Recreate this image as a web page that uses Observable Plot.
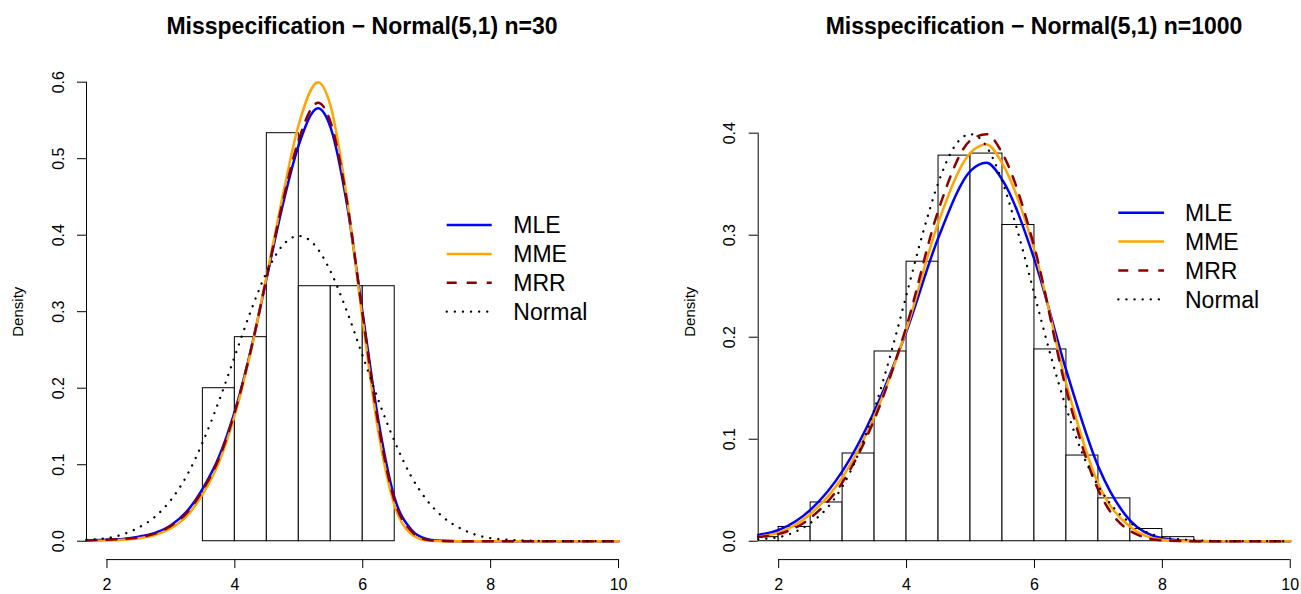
<!DOCTYPE html>
<html>
<head>
<meta charset="utf-8">
<script src="https://cdn.jsdelivr.net/npm/d3@7"></script>
<script src="https://cdn.jsdelivr.net/npm/@observablehq/plot@0.6"></script>
<style>
  html, body { margin: 0; padding: 0; background: #fff; }
  #wrap { position: relative; width: 1301px; height: 594px; overflow: hidden;
          font-family: "Liberation Sans", Arial, Helvetica, sans-serif; }
  .panel { position: absolute; top: 0; }
  .title { position: absolute; top: 11px; font-weight: bold; font-size: 23px; white-space: nowrap;
           transform: translateX(-50%); color: #000; line-height: 30px; }
  #legend { position: absolute; left: 0; top: 0; }
</style>
</head>
<body>
<div id="wrap"></div>
<script>
// ---------------- data ----------------
const titles = ["Misspecification \u2212 Normal(5,1) n=30", "Misspecification \u2212 Normal(5,1) n=1000"];
const seriesNames = ["MLE", "MME", "MRR", "Normal"];
const xTicks = [2, 4, 6, 8, 10];
const leftYTicks = [0.0, 0.1, 0.2, 0.3, 0.4, 0.5, 0.6];
const rightYTicks = [0.0, 0.1, 0.2, 0.3, 0.4];
const yLabel = "Density";

// histogram n = 30
const leftBreaks = [3.5, 4.0, 4.5, 5.0, 5.5, 6.0, 6.5];
const leftDensity = [0.200, 0.2667, 0.5333, 0.3333, 0.3333, 0.3333];

// histogram n = 1000
const rightBreaks = [1.5, 2.0, 2.5, 3.0, 3.5, 4.0, 4.5, 5.0, 5.5, 6.0, 6.5, 7.0, 7.5, 8.0, 8.5];
const rightDensity = [0.004, 0.014, 0.038, 0.086, 0.186, 0.274, 0.378, 0.380, 0.310, 0.188, 0.084, 0.042, 0.012, 0.004];

// fitted curves, n = 30
const leftX      = [1.68, 2.0, 2.25, 2.5, 2.75, 3.0, 3.25, 3.5, 3.75, 4.0, 4.25, 4.5, 4.75, 5.0, 5.3, 5.5, 5.75, 6.0, 6.25, 6.5, 6.75, 7.0, 7.25, 7.5, 8.0, 9.0, 10.0];
const leftMLE    = [0.001, 0.002, 0.003, 0.006, 0.011, 0.021, 0.039, 0.069, 0.110, 0.170, 0.250, 0.345, 0.440, 0.518, 0.566, 0.540, 0.442, 0.297, 0.155, 0.056, 0.016, 0.003, 0.0005, 0, 0, 0, 0];
const leftMME    = [0.0005, 0.001, 0.002, 0.004, 0.008, 0.017, 0.033, 0.062, 0.103, 0.165, 0.248, 0.348, 0.452, 0.545, 0.600, 0.568, 0.450, 0.288, 0.140, 0.046, 0.010, 0.001, 0, 0, 0, 0, 0];
const leftMRR    = [0.001, 0.002, 0.003, 0.005, 0.010, 0.020, 0.037, 0.067, 0.108, 0.169, 0.250, 0.346, 0.444, 0.525, 0.573, 0.547, 0.446, 0.295, 0.150, 0.052, 0.014, 0.002, 0.0003, 0, 0, 0, 0];
const normalX    = [1.68, 2.0, 2.25, 2.5, 2.75, 3.0, 3.25, 3.5, 3.75, 4.0, 4.25, 4.5, 4.75, 5.0, 5.25, 5.5, 5.75, 6.0, 6.25, 6.5, 6.75, 7.0, 7.25, 7.5, 7.75, 8.0, 8.25, 8.5, 9.0, 10.0];
const normalY    = [0.002, 0.004, 0.009, 0.018, 0.032, 0.054, 0.086, 0.130, 0.183, 0.242, 0.301, 0.352, 0.387, 0.399, 0.387, 0.352, 0.301, 0.242, 0.183, 0.130, 0.086, 0.054, 0.032, 0.018, 0.009, 0.004, 0.002, 0.001, 0.0001, 0];

// fitted curves, n = 1000
const rightX     = [1.68, 2.0, 2.5, 3.0, 3.5, 4.0, 4.5, 5.0, 5.25, 5.5, 6.0, 6.5, 7.0, 7.5, 8.0, 8.5, 9.0, 10.0];
const rightMLE   = [0.0062, 0.011, 0.031, 0.069, 0.128, 0.206, 0.298, 0.363, 0.371, 0.354, 0.276, 0.167, 0.073, 0.020, 0.003, 0.0003, 0, 0];
const rightMME   = [0.0046, 0.0085, 0.027, 0.063, 0.123, 0.208, 0.313, 0.381, 0.389, 0.370, 0.285, 0.154, 0.056, 0.014, 0.0015, 0, 0, 0];
const rightMRR   = [0.0043, 0.007, 0.023, 0.058, 0.120, 0.211, 0.325, 0.393, 0.399, 0.380, 0.288, 0.148, 0.050, 0.010, 0.0008, 0, 0, 0];

// ---------------- styles ----------------
const FONT = '"Liberation Sans", Arial, Helvetica, sans-serif';
const styles = {
  MLE:    {stroke: "#0000FF", strokeWidth: 2.5},
  MME:    {stroke: "#FFA500", strokeWidth: 2.5},
  MRR:    {stroke: "#8B0000", strokeWidth: 2.5, strokeDasharray: "10,10"},
  Normal: {stroke: "#000000", strokeWidth: 2.3, strokeDasharray: "0.1,8", strokeLinecap: "round"}
};

function curveRows(xs, ys) { return xs.map((x, i) => ({x, y: ys[i]})); }

function makePanel(cfg) {
  const bars = cfg.density.map((d, i) => ({x1: cfg.breaks[i], x2: cfg.breaks[i + 1], d}));
  const curves = {
    MLE: curveRows(cfg.cx, cfg.mle),
    MME: curveRows(cfg.cx, cfg.mme),
    MRR: curveRows(cfg.cx, cfg.mrr),
    Normal: curveRows(normalX, normalY)
  };
  return Plot.plot({
    width: cfg.width,
    height: 594,
    marginLeft: cfg.marginLeft,
    marginRight: cfg.marginRight,
    marginTop: 63.3,
    marginBottom: 34.9,
    x: {domain: cfg.xDomain},
    y: {domain: cfg.yDomain},
    style: {fontFamily: FONT, fontSize: "16px", color: "#000", background: "transparent", overflow: "visible"},
    marks: [
      Plot.rectY(bars, {x1: "x1", x2: "x2", y1: 0, y2: "d", fill: "white", stroke: "#000", strokeWidth: 1, clip: true}),
      ...seriesNames.map(s => Plot.line(curves[s], {x: "x", y: "y", curve: "monotone-x", ...styles[s]})),
      // x axis (R style)
      Plot.ruleY([cfg.yDomain[0]], {x1: xTicks[0], x2: xTicks[xTicks.length - 1], stroke: "#000", strokeWidth: 1}),
      Plot.axisX({ticks: xTicks, tickSize: 9, tickPadding: 10, tickFormat: d => String(d), label: null, fontSize: 16}),
      // y axis (R style)
      Plot.ruleX([cfg.xDomain[0]], {y1: cfg.yTicks[0], y2: cfg.yTicks[cfg.yTicks.length - 1], stroke: "#000", strokeWidth: 1}),
      Plot.axisY({ticks: cfg.yTicks, tickSize: 9, tickFormat: () => "", label: null}),
      Plot.text(cfg.yTicks, {y: d => d, text: d => d.toFixed(1), frameAnchor: "left", dx: -28, rotate: -90,
                             textAnchor: "middle", lineAnchor: "middle", fontSize: 16}),
      Plot.text([yLabel], {text: d => d, frameAnchor: "left", dx: -68, rotate: -90, textAnchor: "middle",
                           lineAnchor: "middle", fontSize: 15})
    ]
  });
}

const wrap = document.getElementById("wrap");

const left = makePanel({
  width: 650, marginLeft: 86, marginRight: 11.5,
  xDomain: [1.68, 10.32], yDomain: [-0.024, 0.624], yTicks: leftYTicks,
  breaks: leftBreaks, density: leftDensity,
  cx: leftX, mle: leftMLE, mme: leftMME, mrr: leftMRR
});
left.classList.add("panel");
left.style.left = "0px";
wrap.appendChild(left);

const right = makePanel({
  width: 651, marginLeft: 107.7, marginRight: 0,
  xDomain: [1.68, 10.176], yDomain: [-0.018, 0.468], yTicks: rightYTicks,
  breaks: rightBreaks, density: rightDensity,
  cx: rightX, mle: rightMLE, mme: rightMME, mrr: rightMRR
});
right.classList.add("panel");
right.style.left = "650px";
wrap.appendChild(right);

// titles
[[titles[0], 362], [titles[1], 1034]].forEach(([t, cx]) => {
  const d = document.createElement("div");
  d.className = "title";
  d.style.left = cx + "px";
  d.textContent = t;
  wrap.appendChild(d);
});

// legends
const legendSvg = d3.select(wrap).append("svg").attr("id", "legend")
  .attr("width", 1301).attr("height", 594);
const legends = [
  {x0: 446.7, x1: 491.7, tx: 513.3, y0: 225, dy: 28.9},
  {x0: 1118.3, x1: 1164, tx: 1185, y0: 212.7, dy: 28.9}
];
legends.forEach(L => {
  seriesNames.forEach((s, i) => {
    const y = L.y0 + i * L.dy;
    const st = styles[s];
    legendSvg.append("line")
      .attr("x1", L.x0).attr("x2", L.x1).attr("y1", y).attr("y2", y)
      .attr("stroke", st.stroke).attr("stroke-width", st.strokeWidth)
      .attr("stroke-dasharray", st.strokeDasharray || null)
      .attr("stroke-linecap", st.strokeLinecap || "butt");
    legendSvg.append("text")
      .attr("x", L.tx).attr("y", y + 8.2)
      .attr("font-family", FONT).attr("font-size", 23)
      .attr("fill", "#000")
      .text(s);
  });
});
</script>
</body>
</html>
